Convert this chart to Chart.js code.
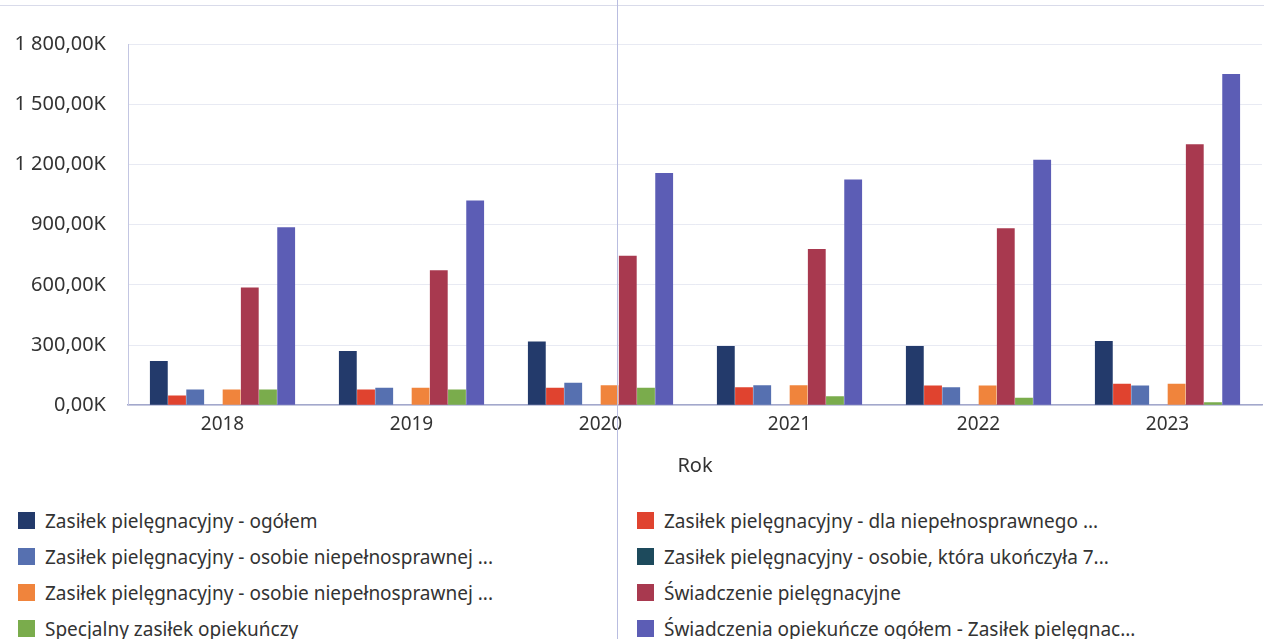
<!DOCTYPE html>
<html lang="pl">
<head>
<meta charset="utf-8">
<script src="https://cdn.jsdelivr.net/npm/chart.js@4/dist/chart.umd.min.js"></script>
<style>
    html, body { margin: 0; padding: 0; background: #fff; }
    body { width: 1264px; height: 639px; position: relative; overflow: hidden; font-family: "Noto Sans", "Open Sans", sans-serif; }
    .chart-wrap { position: absolute; left: 0; top: 0; width: 1264px; height: 482px; }
    .legend { position: absolute; left: 0; top: 503px; width: 1264px; }
    .legend-item { position: absolute; height: 36px; line-height: 36px; font-size: 19px; color: #333; white-space: nowrap; }
    .legend-item span.sw { display: inline-block; width: 17px; height: 17px; vertical-align: middle; margin-right: 10px; position: relative; top: -2px; }
    .scan-h { position: absolute; left: 0; top: 5px; width: 1264px; height: 1px; background: #d9dbea; }
    .scan-v { position: absolute; left: 617px; top: 0; width: 1px; height: 639px; background: #b9bde0; }
</style>
</head>
<body>
<div class="scan-h"></div>
<div class="chart-wrap"><canvas id="chart"></canvas></div>
<div class="legend" id="legend"></div>
<div class="scan-v"></div>
<script>
(function () {
    'use strict';

    // lata (oś X)
    var years = ['2018', '2019', '2020', '2021', '2022', '2023'];

    // wartości w tysiącach (K)
    var zpOgolem = [220, 270, 317, 295, 295, 320];
    var zpDlaNiepelnosprawnego = [48, 78, 87, 90, 98, 107];
    var zpOsobieNiepelnosprawnej = [78, 87, 112, 100, 90, 98];
    var zpOsobieKtoraUkonczyla = [0, 0, 0, 0, 0, 0];
    var zpOsobieNiepelnosprawnej2 = [78, 87, 100, 100, 98, 107];
    var swiadczeniePielegnacyjne = [587, 673, 745, 778, 882, 1300];
    var specjalnyZasilek = [78, 78, 87, 45, 37, 15];
    var swiadczeniaOpiekuncze = [887, 1020, 1157, 1125, 1223, 1650];

    var yTicks = [0, 300, 600, 900, 1200, 1500, 1800];

    var seriesLabels = [
        'Zasiłek pielęgnacyjny - ogółem',
        'Zasiłek pielęgnacyjny - dla niepełnosprawnego ...',
        'Zasiłek pielęgnacyjny - osobie niepełnosprawnej ...',
        'Zasiłek pielęgnacyjny - osobie, która ukończyła 7...',
        'Zasiłek pielęgnacyjny -  osobie niepełnosprawnej ...',
        'Świadczenie pielęgnacyjne',
        'Specjalny zasiłek opiekuńczy',
        'Świadczenia opiekuńcze ogółem - Zasiłek pielęgnac...'
    ];
    var seriesValues = [
        zpOgolem, zpDlaNiepelnosprawnego, zpOsobieNiepelnosprawnej, zpOsobieKtoraUkonczyla,
        zpOsobieNiepelnosprawnej2, swiadczeniePielegnacyjne, specjalnyZasilek, swiadczeniaOpiekuncze
    ];
    var palette = ['#233a6b', '#e0432f', '#5670b0', '#1d4a5c', '#f0843c', '#a8394f', '#7aac4c', '#5c5db5'];

    function formatK(v) {
        var s = String(Math.round(v));
        if (s.length > 3) {
            s = s.slice(0, s.length - 3) + ' ' + s.slice(s.length - 3);
        }
        return s + ',00K';
    }

    var datasets = seriesValues.map(function (vals, i) {
        return {
            label: seriesLabels[i],
            data: vals,
            backgroundColor: palette[i],
            borderWidth: 0,
            categoryPercentage: 0.77,
            barPercentage: 0.98
        };
    });

    var chart = new Chart(document.getElementById('chart'), {
        type: 'bar',
        data: { labels: years, datasets: datasets },
        options: {
            responsive: true,
            maintainAspectRatio: false,
            animation: false,
            layout: { padding: { top: 44, right: 2, left: 8, bottom: 0 } },
            plugins: {
                legend: { display: false },
                tooltip: { enabled: false }
            },
            scales: {
                x: {
                    grid: { display: false, drawTicks: false },
                    border: { display: true, color: '#a3a8cc', width: 1.5 },
                    ticks: { color: '#333', font: { family: 'Noto Sans', size: 19 }, padding: 8 },
                    title: { display: true, text: 'Rok', color: '#333', font: { family: 'Noto Sans', size: 20 }, padding: { top: 10, bottom: 4 } }
                },
                y: {
                    min: 0,
                    max: 1800,
                    afterBuildTicks: function (scale) {
                        scale.ticks = yTicks.map(function (v) { return { value: v }; });
                    },
                    afterFit: function (scale) { scale.width = 120; },
                    grid: { color: 'rgba(205,208,228,0.45)', drawTicks: false },
                    border: { display: true, color: '#c3c6e2', width: 1 },
                    ticks: {
                        color: '#333',
                        font: { family: 'Noto Sans', size: 20 },
                        padding: 22,
                        callback: function (v) { return formatK(v); }
                    }
                }
            }
        }
    });

    // legenda w dwóch kolumnach
    var legend = document.getElementById('legend');
    chart.data.datasets.forEach(function (ds, i) {
        var item = document.createElement('div');
        item.className = 'legend-item';
        item.style.left = (i % 2 === 0 ? 18 : 637) + 'px';
        item.style.top = (Math.floor(i / 2) * 36) + 'px';
        var sw = document.createElement('span');
        sw.className = 'sw';
        sw.style.background = ds.backgroundColor;
        item.appendChild(sw);
        item.appendChild(document.createTextNode(ds.label));
        legend.appendChild(item);
    });
})();
</script>
</body>
</html>
